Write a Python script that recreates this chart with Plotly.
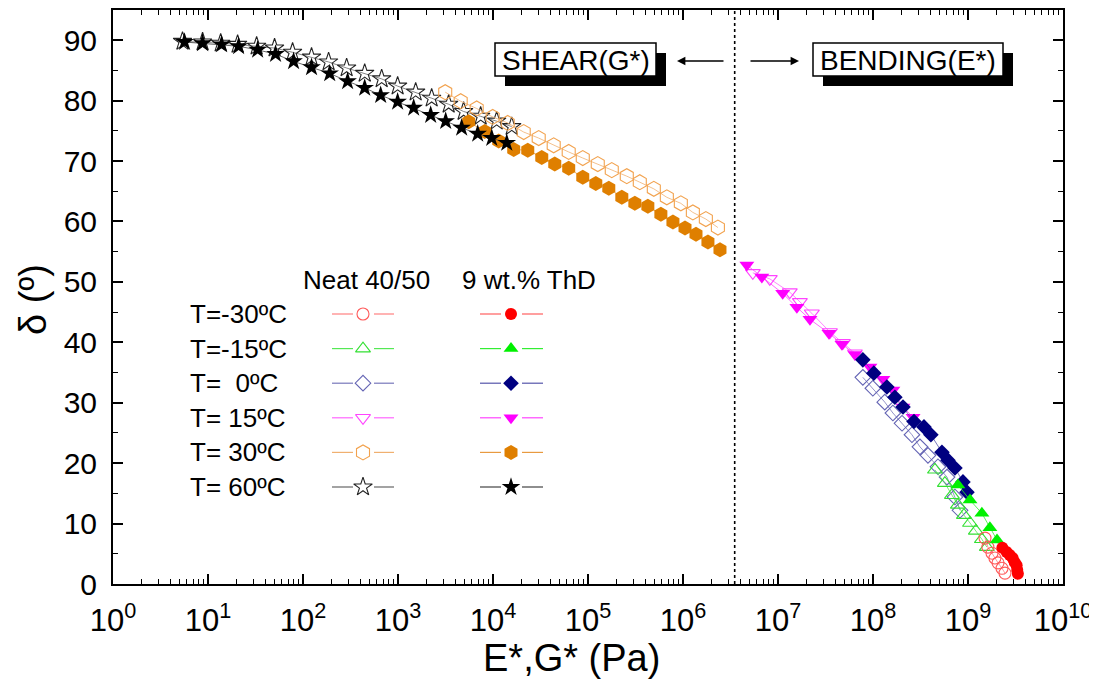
import plotly.graph_objects as go

# ---------------- data ----------------
# T = 60 C  (stars)
neat60_x = [5.39, 8.77, 13.6, 20.5, 32.5, 50.2, 77.7, 123, 186, 288, 446, 673, 991, 1535, 2261, 3414, 4909, 7413, 10930, 15740]
neat60_y = [89.8, 89.7, 89.5, 89.3, 89.0, 88.7, 88.0, 87.2, 86.4, 85.4, 84.5, 83.6, 82.4, 81.4, 80.4, 79.4, 78.2, 77.4, 76.6, 75.7]
thd60_x = [5.66, 8.77, 13.9, 21.0, 33.3, 51.4, 79.6, 123, 191, 295, 446, 657, 991, 1462, 2208, 3177, 4679, 6902, 9700, 13960]
thd60_y = [89.7, 89.5, 89.3, 89.0, 88.4, 87.7, 86.5, 85.5, 84.5, 83.2, 82.1, 80.9, 79.8, 78.8, 77.6, 76.6, 75.5, 74.5, 73.8, 73.0]

# T = 30 C  (hexagons)
neat30_x = [3141, 4570, 6734, 9930, 14290, 21050, 30270, 43550, 62660, 88070, 126700, 177900,
            256000, 350900, 493000, 676000, 949000, 1.27e6, 1.74e6, 2.33e6]
neat30_y = [81.4, 79.9, 78.7, 77.3, 76.3, 74.8, 73.8, 72.6, 71.5, 70.5, 69.5, 68.5,
            67.5, 66.5, 65.4, 64.0, 63.0, 61.5, 60.4, 59.0]
thd30_x = [5546, 8180, 11490, 16520, 23220, 32600, 44670, 62660, 88070, 120800, 165500, 227000,
           311200, 426600, 584800, 783400, 1.05e6, 1.37e6, 1.83e6, 2.45e6]
thd30_y = [76.5, 74.9, 73.3, 71.9, 71.8, 70.6, 69.5, 68.8, 67.3, 66.3, 65.5, 64.0,
           63.0, 62.5, 61.2, 59.9, 58.9, 57.9, 56.6, 55.3]

# T = 15 C  (down triangles)
neat15_x = [5.43e6, 8.2e6, 1.33e7, 1.70e7, 2.27e7, 3.52e7, 4.82e7, 6.45e7]
neat15_y = [51.5, 50.5, 48.3, 46.7, 44.8, 41.7, 39.9, 38.2]
thd15_x = [4.70e6, 6.76e6, 1.12e7, 1.58e7, 2.17e7, 3.44e7, 4.71e7, 6.45e7, 9.29e7, 1.27e8, 1.62e8, 2.07e8, 2.64e8]
thd15_y = [52.8, 50.8, 48.1, 45.8, 43.8, 41.5, 39.7, 38.0, 35.9, 33.9, 32.1, 29.3, 27.6]

# T = 0 C  (diamonds)
neat0_x = [7.82e7, 9.96e7, 1.33e8, 1.62e8, 2.02e8, 2.57e8, 3.12e8, 3.79e8, 4.83e8, 6.01e8, 7.29e8, 8.24e8]
neat0_y = [34.2, 32.4, 30.1, 28.3, 26.6, 24.7, 22.7, 21.3, 19.4, 17.7, 14.4, 12.2]
thd0_x = [7.82e7, 1.02e8, 1.40e8, 1.70e8, 2.07e8, 2.70e8, 3.44e8, 4.07e8, 5.32e8, 6.15e8, 7.29e8, 8.85e8, 9.75e8]
thd0_y = [37.1, 34.9, 32.6, 30.9, 29.3, 26.9, 26.0, 24.7, 21.8, 20.5, 19.2, 16.9, 15.2]

# T = -15 C  (up triangles)
neatm15_x = [4.49e8, 5.71e8, 6.78e8, 7.83e8, 9.06e8, 1.05e9, 1.21e9, 1.40e9, 1.58e9]
neatm15_y = [18.9, 16.7, 14.7, 13.1, 11.4, 10.1, 8.8, 7.4, 6.1]
thdm15_x = [7.83e8, 1.05e9, 1.40e9, 1.70e9, 2.02e9]
thdm15_y = [16.4, 13.9, 11.7, 9.3, 7.3]

# T = -30 C  (circles)
neatm30_x = [1.51e9, 1.62e9, 1.79e9, 1.92e9, 2.07e9, 2.28e9, 2.45e9]
neatm30_y = [7.6, 6.1, 5.1, 4.3, 3.5, 2.6, 1.8]
thdm30_x = [2.3e9, 2.55e9, 2.75e9, 2.95e9, 3.1e9, 3.25e9, 3.3e9, 3.35e9]
thdm30_y = [6.0, 5.3, 4.8, 4.3, 3.6, 3.1, 2.3, 1.7]

boundary_x = 3.5e6  # shear / bending boundary

row_labels = ["T=-30ºC", "T=-15ºC", "T=\u00a0\u00a00ºC", "T=\u00a015ºC", "T=\u00a030ºC", "T=\u00a060ºC"]
col_headers = ["Neat 40/50", "9 wt.% ThD"]

x_tick_exps = list(range(0, 11))
y_ticks = list(range(0, 100, 10))

FONT = "Liberation Sans, Arial, sans-serif"

# styles per temperature: (open symbol, filled symbol, open color, filled color, line open, line filled, size)
styles = {
    "m30": ("circle-open", "circle", "#ff5a5a", "#ff0000", "#ff8080", "#ff6060", 12),
    "m15": ("triangle-up-open", "triangle-up", "#33e033", "#00f000", "#55e855", "#33ee33", 13),
    "0": ("diamond-open", "diamond", "#6464b4", "#000080", "#7777bb", "#5555aa", 12),
    "15": ("triangle-down-open", "triangle-down", "#ff44ff", "#ff00ff", "#ff66ff", "#ff44ff", 13),
    "30": ("hexagon-open", "hexagon", "#f2a24e", "#df7f00", "#f0b070", "#e89a40", 15),
    "60": ("star-open", "star", "#222222", "#000000", "#666666", "#444444", 14),
}

series = {
    "m30": (neatm30_x, neatm30_y, thdm30_x, thdm30_y),
    "m15": (neatm15_x, neatm15_y, thdm15_x, thdm15_y),
    "0": (neat0_x, neat0_y, thd0_x, thd0_y),
    "15": (neat15_x, neat15_y, thd15_x, thd15_y),
    "30": (neat30_x, neat30_y, thd30_x, thd30_y),
    "60": (neat60_x, neat60_y, thd60_x, thd60_y),
}

# page geometry: the html body has an 8 px default margin
BODY = 8
PL, PR, PT, PB = 113, 1063, 10, 584   # plot area in page pixels
FIG_W, FIG_H = 1097 - BODY, 686 - BODY

fig = go.Figure()

# boundary dotted line
fig.add_trace(go.Scatter(x=[boundary_x, boundary_x], y=[0, 95], mode="lines",
                         line=dict(color="black", width=1.6, dash="dot"),
                         hoverinfo="skip", showlegend=False))

# open (neat) series
for key in ["60", "30", "15", "0", "m15", "m30"]:
    so, sf, co, cf, lo, lf, sz = styles[key]
    nx, ny, tx, ty = series[key]
    fig.add_trace(go.Scatter(x=nx, y=ny, mode="lines+markers",
                             line=dict(color=lo, width=0.8),
                             marker=dict(symbol=so, size=sz, color=co, line=dict(width=1.1, color=co)),
                             showlegend=False))

# filled (ThD) series
for key in ["15", "0", "m15", "m30", "30", "60"]:
    so, sf, co, cf, lo, lf, sz = styles[key]
    nx, ny, tx, ty = series[key]
    fig.add_trace(go.Scatter(x=tx, y=ty, mode="lines+markers",
                             line=dict(color=lf, width=0.8),
                             marker=dict(symbol=sf, size=sz, color=cf, line=dict(width=0)),
                             showlegend=False))

# ---------- custom legend (pixel-like overlay axes) ----------
legend_keys = ["m30", "m15", "0", "15", "30", "60"]
row_y0 = 314
row_dy = 34.6
for i, key in enumerate(legend_keys):
    so, sf, co, cf, lo, lf, sz = styles[key]
    yy = row_y0 + i * row_dy
    fig.add_trace(go.Scatter(x=[332, 353, None, 374, 394], y=[yy, yy, None, yy, yy], mode="lines",
                             line=dict(color=lo, width=1.2), xaxis="x2", yaxis="y2",
                             hoverinfo="skip", showlegend=False))
    fig.add_trace(go.Scatter(x=[363], y=[yy], mode="markers", xaxis="x2", yaxis="y2",
                             marker=dict(symbol=so, size=sz, color=co, line=dict(width=1.1, color=co)),
                             hoverinfo="skip", showlegend=False))
    fig.add_trace(go.Scatter(x=[480, 501, None, 522, 543], y=[yy, yy, None, yy, yy], mode="lines",
                             line=dict(color=lf, width=1.2), xaxis="x2", yaxis="y2",
                             hoverinfo="skip", showlegend=False))
    fig.add_trace(go.Scatter(x=[511], y=[yy], mode="markers", xaxis="x2", yaxis="y2",
                             marker=dict(symbol=sf, size=sz, color=cf, line=dict(width=0)),
                             hoverinfo="skip", showlegend=False))

annotations = []
for i, lab in enumerate(row_labels):
    annotations.append(dict(x=188, y=row_y0 + i * row_dy, xref="x2", yref="y2", text=lab,
                            showarrow=False, xanchor="left", yanchor="middle",
                            font=dict(family=FONT, size=26, color="black")))
annotations.append(dict(x=366, y=280, xref="x2", yref="y2", text=col_headers[0], showarrow=False,
                        xanchor="center", yanchor="middle", font=dict(family=FONT, size=26, color="black")))
annotations.append(dict(x=529, y=280, xref="x2", yref="y2", text=col_headers[1], showarrow=False,
                        xanchor="center", yanchor="middle", font=dict(family=FONT, size=26, color="black")))

# boxed labels with shadow
shapes = []
for (x0, x1, txt) in [(495, 656, "SHEAR(G*)"), (813, 1003, "BENDING(E*)")]:
    shapes.append(dict(type="rect", xref="x2", yref="y2", x0=x0 + 10, x1=x1 + 10, y0=53, y1=86,
                       fillcolor="black", line=dict(width=0), layer="above"))
    shapes.append(dict(type="rect", xref="x2", yref="y2", x0=x0, x1=x1, y0=43, y1=76,
                       fillcolor="white", line=dict(color="black", width=1.5), layer="above"))
    annotations.append(dict(x=(x0 + x1) / 2, y=60, xref="x2", yref="y2", text=txt, showarrow=False,
                            xanchor="center", yanchor="middle",
                            font=dict(family=FONT, size=28, color="black")))

# arrows
annotations.append(dict(x=677, y=61, ax=725, ay=61, xref="x2", yref="y2", axref="x2", ayref="y2",
                        text="", showarrow=True, arrowhead=2, arrowsize=1.2, arrowwidth=1.4,
                        arrowcolor="black"))
annotations.append(dict(x=799, y=61, ax=749, ay=61, xref="x2", yref="y2", axref="x2", ayref="y2",
                        text="", showarrow=True, arrowhead=2, arrowsize=1.2, arrowwidth=1.4,
                        arrowcolor="black"))

# axis titles (placed in paper coordinates)
pw, ph = PR - PL, PB - PT
annotations.append(dict(x=(571 - PL) / pw, y=(PB - 658) / ph, xref="paper", yref="paper",
                        text="E*,G* (Pa)", showarrow=False, xanchor="center", yanchor="middle",
                        font=dict(family=FONT, size=38, color="black")))
annotations.append(dict(x=(33 - PL) / pw, y=(PB - 300) / ph, xref="paper", yref="paper",
                        text="δ (º)", showarrow=False, xanchor="center", yanchor="middle",
                        textangle=-90, font=dict(family=FONT, size=38, color="black")))

x_minor = [m * 10 ** e for e in x_tick_exps[:-1] for m in range(2, 10)]

fig.update_layout(
    width=FIG_W, height=FIG_H,
    margin=dict(l=PL - BODY, r=FIG_W - (PR - BODY), t=PT - BODY, b=FIG_H - (PB - BODY)),
    paper_bgcolor="white", plot_bgcolor="white",
    showlegend=False,
    font=dict(family=FONT, color="black"),
    xaxis=dict(
        type="log", range=[0, 10], automargin=False,
        tickmode="array",
        tickvals=[10 ** e for e in x_tick_exps],
        ticktext=["10<sup>%d</sup>" % e for e in x_tick_exps],
        ticks="inside", ticklen=10, tickwidth=1.5, tickcolor="black",
        ticklabelstandoff=8,
        minor=dict(tickmode="array", tickvals=x_minor, ticks="inside", ticklen=5,
                   tickwidth=1.2, tickcolor="black", showgrid=False),
        showline=True, linewidth=2, linecolor="black", mirror="ticks",
        showgrid=False, zeroline=False,
        tickfont=dict(family=FONT, size=31, color="black"),
    ),
    yaxis=dict(
        range=[0, 95], automargin=False,
        tickmode="array", tickvals=y_ticks,
        ticks="inside", ticklen=10, tickwidth=1.5, tickcolor="black",
        ticklabelstandoff=8,
        minor=dict(dtick=5, ticks="inside", ticklen=5, tickwidth=1.2, tickcolor="black", showgrid=False),
        showline=True, linewidth=2, linecolor="black", mirror="ticks",
        showgrid=False, zeroline=False,
        tickfont=dict(family=FONT, size=30, color="black"),
    ),
    xaxis2=dict(overlaying="x", range=[PL, PR], visible=False, fixedrange=True),
    yaxis2=dict(overlaying="y", range=[PB, PT], visible=False, fixedrange=True),
    annotations=annotations,
    shapes=shapes,
)

fig.write_html("out.html")
